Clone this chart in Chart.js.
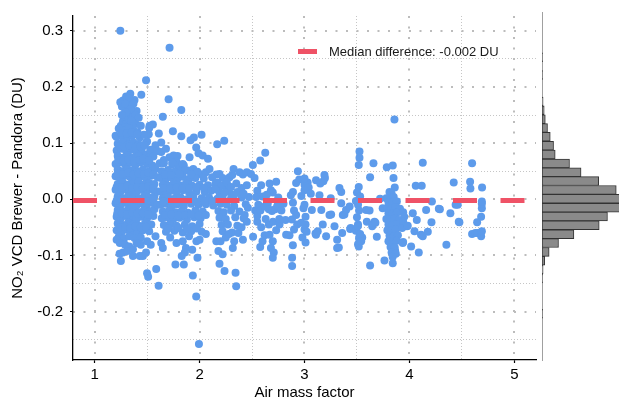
<!DOCTYPE html>
<html lang="en">
<head>
  <meta charset="UTF-8">
  <title>Brewer - Pandora NO2 difference vs air mass factor</title>
  <script src="https://cdn.jsdelivr.net/npm/chart.js"></script>
  <style>
    body {
      margin: 0;
      background-color: #ffffff;
      font-family: "Liberation Sans", Arial, sans-serif;
      overflow: hidden;
    }
    #wrap {
      position: relative;
      width: 619px;
      height: 402px;
    }
    #main, #hist {
      position: absolute;
      top: 0;
    }
    #main { left: 0; }
    #hist { left: 540px; }
    #legend {
      position: absolute;
      left: 298px;
      top: 43px;
      height: 16px;
      display: flex;
      align-items: center;
      font-size: 13px;
      color: #1a1a1a;
      white-space: nowrap;
    }
    #legend .key {
      display: inline-block;
      width: 19px;
      height: 5px;
      margin-right: 12px;
    }
  </style>
</head>
<body>
  <div id="wrap">
    <canvas id="main" width="540" height="402"></canvas>
    <canvas id="hist" width="79" height="402"></canvas>
    <div id="legend"><span class="key"></span><span id="legendText"></span></div>
  </div>

  <script>
    // [air mass factor, Brewer - Pandora (DU)]
    const lowAmfPoints = [
      [1.245,0.300],[1.49,0.212],[1.445,0.186],[1.34,0.188],[1.30,0.183],[1.245,0.173],[1.38,0.177],
      [1.35,0.166],[1.36,0.154],[1.40,0.157],[1.32,0.151],[1.29,0.160],[1.26,0.165],[1.31,0.171],
      [1.27,0.139],[1.30,0.136],[1.33,0.142],[1.365,0.145],[1.28,0.148],[1.25,0.131],[1.39,0.134],
      [1.555,0.133],[1.524,0.131],[1.20,0.113],[1.41,0.119],[1.52,0.127],[1.516,0.116],[1.49,0.101],
      [1.46,0.095],[1.555,0.087],[1.52,0.081],[1.46,0.081],[1.44,0.131],
      [1.27,0.176],[1.33,0.180],[1.29,0.170],[1.37,0.170],[1.34,0.160],[1.39,0.150],[1.30,0.155],
      [1.42,0.145],[1.26,0.150],[1.35,0.140],[1.29,0.128],[1.36,0.130],
      [1.23,0.126],[1.28,0.122],[1.33,0.127],[1.38,0.121],
      [1.21,0.111],[1.26,0.114],[1.31,0.109],[1.36,0.113],[1.43,0.110],[1.47,0.115],
      [1.22,0.099],[1.27,0.102],[1.32,0.097],[1.37,0.101],[1.42,0.098],[1.50,0.103],[1.58,0.096],
      [1.21,0.087],[1.25,0.090],[1.30,0.086],[1.35,0.089],[1.40,0.085],[1.45,0.091],[1.53,0.088],[1.60,0.086],
      [1.22,0.077],[1.27,0.074],[1.32,0.078],[1.37,0.075],[1.42,0.077],[1.48,0.073],[1.56,0.076],
      [1.20,0.063],[1.24,0.066],[1.29,0.062],[1.34,0.065],[1.39,0.061],[1.44,0.066],[1.50,0.063],[1.55,0.060],
      [1.22,0.053],[1.26,0.050],[1.31,0.054],[1.36,0.051],[1.41,0.049],[1.46,0.053],[1.52,0.050],[1.58,0.054],
      [1.20,0.041],[1.24,0.038],[1.29,0.042],[1.34,0.039],[1.39,0.037],[1.44,0.041],[1.49,0.038],[1.54,0.042],
      [1.22,0.027],[1.27,0.030],[1.32,0.026],[1.37,0.029],[1.42,0.031],[1.47,0.026],[1.52,0.029],[1.57,0.027],
      [1.20,0.017],[1.25,0.014],[1.30,0.018],[1.35,0.015],[1.40,0.013],[1.45,0.017],[1.50,0.015],[1.55,0.018],
      [1.22,0.005],[1.27,0.002],[1.32,0.006],[1.37,0.003],[1.42,0.001],[1.47,0.005],[1.52,0.003],[1.57,0.006],
      [1.20,-0.007],[1.25,-0.010],[1.30,-0.006],[1.35,-0.009],[1.40,-0.011],[1.45,-0.007],[1.50,-0.009],[1.55,-0.006],
      [1.22,-0.019],[1.27,-0.022],[1.32,-0.018],[1.37,-0.021],[1.42,-0.023],[1.47,-0.019],[1.52,-0.021],[1.57,-0.018],
      [1.21,-0.031],[1.25,-0.034],[1.30,-0.030],[1.35,-0.033],[1.40,-0.035],[1.45,-0.031],[1.50,-0.034],[1.56,-0.030],
      [1.22,-0.043],[1.27,-0.046],[1.32,-0.042],[1.37,-0.045],[1.42,-0.047],[1.48,-0.043],[1.54,-0.045],
      [1.21,-0.055],[1.26,-0.058],[1.31,-0.054],[1.36,-0.057],[1.41,-0.059],[1.46,-0.055],[1.52,-0.057],
      [1.23,-0.067],[1.28,-0.070],[1.33,-0.066],[1.38,-0.069],[1.44,-0.068],
      [1.255,0.118],[1.305,0.117],[1.355,0.119],[1.405,0.116],
      [1.235,0.094],[1.285,0.093],[1.335,0.095],[1.385,0.092],[1.435,0.094],[1.475,0.096],
      [1.225,0.070],[1.275,0.069],[1.325,0.071],[1.375,0.068],[1.425,0.070],[1.465,0.072],[1.52,0.069],
      [1.22,0.046],[1.27,0.045],[1.32,0.047],[1.37,0.044],[1.42,0.046],[1.47,0.045],[1.51,0.047],[1.56,0.044],
      [1.21,0.022],[1.26,0.021],[1.31,0.023],[1.36,0.020],[1.41,0.022],[1.46,0.021],[1.51,0.023],[1.56,0.020],
      [1.21,-0.002],[1.26,-0.001],[1.31,-0.003],[1.36,0.000],[1.41,-0.002],[1.46,-0.001],[1.51,-0.003],[1.56,0.000],
      [1.215,-0.026],[1.26,-0.025],[1.31,-0.027],[1.36,-0.024],[1.41,-0.026],[1.46,-0.025],[1.51,-0.027],
      [1.24,-0.050],[1.29,-0.049],[1.34,-0.051],[1.39,-0.048],[1.44,-0.050],[1.49,-0.049],
      [1.21,-0.072],[1.24,-0.078],[1.29,-0.081],[1.33,-0.084],[1.365,-0.089],[1.43,-0.101],[1.46,-0.101],
      [1.49,-0.095],[1.535,-0.081],[1.44,-0.081],[1.238,-0.097],[1.27,-0.095],[1.25,-0.110],[1.365,-0.101],
      [1.50,-0.132],[1.51,-0.138],[1.587,-0.124],[1.58,-0.066],[1.50,-0.075],[1.40,-0.078],[1.31,-0.092]
    ];

    const midAmfPoints = [
      [1.714,0.270],[1.705,0.178],[1.826,0.159],[1.65,0.147],[1.746,0.121],[1.612,0.117],[1.826,0.112],
      [2.019,0.115],[1.946,0.110],[1.914,0.105],[2.168,0.098],[2.235,0.104],[1.968,0.092],[1.635,0.101],
      [1.635,0.084],[1.714,0.075],[1.752,0.078],[1.79,0.077],[1.905,0.075],[1.99,0.082],[2.03,0.078],
      [2.08,0.072],[1.85,0.060],[1.80,0.057],[1.89,0.051],[1.94,0.054],[2.00,0.045],[2.06,0.048],
      [2.095,0.054],[2.16,0.044],[2.19,0.045],[2.22,0.038],[2.286,0.039],[2.311,0.043],[2.324,0.054],
      [2.381,0.048],[2.413,0.044],[2.45,0.048],[2.49,0.045],[1.68,0.090],[1.66,0.070],[1.74,0.062],[1.78,0.067],
      [1.62,0.064],[1.60,0.039],[1.60,0.014],[1.60,-0.010],
      [1.66,0.064],[1.74,0.066],[1.84,0.063],
      [1.64,0.050],[1.70,0.052],[1.76,0.049],[1.86,0.051],[1.98,0.049],
      [1.63,0.038],[1.68,0.036],[1.73,0.039],[1.79,0.037],[1.84,0.040],[1.90,0.036],[1.96,0.038],[2.04,0.037],[2.12,0.039],
      [1.65,0.026],[1.70,0.024],[1.75,0.027],[1.81,0.025],[1.87,0.028],[1.93,0.024],[2.00,0.026],[2.08,0.025],[2.15,0.027],[2.24,0.024],
      [1.63,0.014],[1.68,0.012],[1.73,0.015],[1.78,0.013],[1.84,0.016],[1.90,0.012],[1.97,0.014],[2.05,0.013],[2.11,0.015],[2.19,0.012],[2.28,0.014],[2.36,0.013],
      [1.65,0.002],[1.70,0.004],[1.76,0.001],[1.82,0.003],[1.88,0.000],[1.94,0.004],[2.02,0.002],[2.09,0.003],[2.17,0.001],[2.22,0.004],[2.30,0.002],[2.40,0.003],
      [1.63,-0.010],[1.68,-0.008],[1.74,-0.011],[1.79,-0.009],[1.85,-0.012],[1.92,-0.008],[1.99,-0.010],[2.06,-0.009],[2.13,-0.011],[2.20,-0.008],[2.26,-0.010],[2.33,-0.012],[2.44,-0.009],
      [1.65,-0.022],[1.71,-0.020],[1.77,-0.023],[1.83,-0.021],[1.89,-0.024],[1.96,-0.020],[2.03,-0.022],[2.18,-0.021],[2.23,-0.023],[2.30,-0.020],[2.38,-0.022],
      [1.64,-0.034],[1.69,-0.032],[1.75,-0.035],[1.81,-0.033],[1.88,-0.036],[1.95,-0.032],[2.01,-0.034],[2.19,-0.033],[2.25,-0.035],[2.34,-0.032],[2.42,-0.034],
      [1.66,-0.046],[1.72,-0.044],[1.78,-0.047],[1.86,-0.045],[1.93,-0.048],[2.00,-0.044],[2.21,-0.046],[2.27,-0.045],[2.36,-0.047],
      [1.68,-0.058],[1.76,-0.056],[1.84,-0.059],[1.92,-0.057],[2.02,-0.058],[2.22,-0.057],[2.31,-0.059],
      [1.67,0.044],[1.73,0.043],[1.81,0.045],[1.92,0.044],
      [1.66,0.020],[1.72,0.019],[1.78,0.021],[1.84,0.020],[1.90,0.019],[1.97,0.021],[2.04,0.020],
      [1.66,-0.004],[1.72,-0.003],[1.79,-0.005],[1.85,-0.004],[1.91,-0.003],[1.98,-0.005],[2.05,-0.004],[2.12,-0.003],
      [1.67,-0.028],[1.73,-0.027],[1.80,-0.029],[1.86,-0.028],[1.92,-0.027],[1.99,-0.029],[2.06,-0.028],
      [1.70,-0.052],[1.80,-0.051],[1.88,-0.053],[1.97,-0.052],
      [2.17,0.030],[2.21,0.024],[2.26,0.030],[2.30,0.022],[2.35,0.028],[2.40,0.020],[2.45,0.025],
      [2.24,0.012],[2.33,0.008],[2.42,0.010],[2.47,0.004],[2.15,0.018],
      [1.61,-0.154],[1.635,-0.078],[1.65,-0.087],[1.77,-0.116],[1.85,-0.116],[1.78,-0.078],[1.84,-0.075],
      [1.87,-0.087],[1.86,-0.095],[1.83,-0.101],[1.936,-0.136],[1.968,-0.173],[1.994,-0.258],[1.98,-0.104],
      [1.93,-0.090],[1.97,-0.075],[2.00,-0.072],[2.16,-0.075],[2.18,-0.092],[2.20,-0.075],[2.22,-0.098],
      [2.19,-0.115],[2.238,-0.128],[2.343,-0.131],[2.349,-0.155],[2.317,-0.087],[2.33,-0.075],[2.413,-0.072],
      [2.25,-0.068],[2.28,-0.062],[2.37,-0.060],[2.40,-0.050],[2.45,-0.040],[2.43,-0.028],[2.46,-0.015],
      [1.72,-0.068],[1.90,-0.066],[2.06,-0.062]
    ];

    const highAmfPoints = [
      [2.626,0.083],[2.578,0.069],[2.508,0.061],[2.524,0.038],[2.587,0.025],[2.667,0.028],[2.73,0.031],
      [2.68,0.016],[2.698,0.012],[2.937,0.050],[2.95,0.035],[2.92,0.029],[3.00,0.026],[3.03,0.030],
      [3.00,0.037],[3.04,0.021],[3.00,0.016],[3.11,0.034],[3.19,0.043],[3.18,0.032],[3.15,0.028],
      [3.195,0.038],[3.143,0.007],[2.87,0.007],[2.89,0.013],[2.55,0.015],[2.60,0.005],[2.64,0.008],
      [2.75,0.003],[3.25,0.002],[3.333,0.020],[3.35,0.013],[2.54,0.004],[2.97,0.006],[3.06,0.010],
      [2.51,-0.067],[2.55,-0.040],[2.53,-0.020],[2.56,-0.010],[2.55,-0.030],[2.58,-0.020],[2.587,-0.050],
      [2.578,-0.085],[2.60,-0.075],[2.62,-0.064],[2.63,-0.035],[2.62,-0.013],[2.65,-0.008],[2.66,-0.045],
      [2.66,-0.018],[2.667,-0.063],[2.69,-0.021],[2.70,-0.040],[2.698,-0.075],[2.68,-0.087],[2.707,-0.095],
      [2.698,-0.104],[2.72,-0.018],[2.73,-0.055],[2.74,-0.012],[2.762,-0.045],[2.76,-0.035],[2.78,-0.020],
      [2.80,-0.008],[2.819,-0.037],[2.825,-0.063],[2.857,-0.064],[2.89,-0.006],[2.90,-0.020],[2.88,-0.036],
      [2.92,-0.028],[2.93,-0.045],[2.90,-0.054],[2.889,-0.082],[2.882,-0.104],[2.882,-0.119],[2.97,-0.042],
      [3.00,-0.054],[3.01,-0.045],[3.02,-0.058],[2.98,-0.068],[3.01,-0.077],[3.01,-0.031],[2.99,-0.016],
      [3.00,-0.010],[3.07,-0.019],[3.105,-0.061],[3.11,-0.063],[3.126,-0.057],[3.16,-0.019],[3.174,-0.045],
      [3.206,-0.066],[3.238,-0.028],[3.254,-0.027],[3.286,-0.048],[3.311,-0.072],[3.327,-0.086],[3.311,-0.087],
      [3.35,-0.007],[3.359,-0.060],[3.365,-0.028],[3.38,-0.027],[3.396,-0.019],[3.43,-0.013],[3.435,-0.053],[3.44,-0.051]
    ];

    const veryHighAmfPoints = [
      [3.857,0.142],[3.524,0.085],[3.524,0.074],[3.517,0.061],[3.657,0.064],[3.784,0.057],[3.841,0.060],
      [4.127,0.065],[4.597,0.064],[3.625,0.039],[3.848,0.038],[4.06,0.024],[4.117,0.024],[4.422,0.030],
      [4.578,0.031],[4.692,0.021],[4.581,0.019],[3.517,0.022],[3.86,0.021],[3.81,0.013],[3.83,0.010],
      [3.78,0.002],[3.85,0.004],[3.50,0.012],[3.53,0.005],[3.72,0.001],
      [3.49,-0.003],[3.51,-0.010],[3.52,-0.020],[3.50,-0.032],[3.51,-0.045],[3.49,-0.056],[3.53,-0.062],
      [3.52,-0.070],[3.51,-0.080],[3.55,-0.068],[3.508,-0.048],[3.524,-0.066],[3.517,-0.084],[3.54,-0.075],
      [3.587,-0.019],[3.62,-0.020],[3.625,-0.118],[3.594,-0.040],[3.645,-0.048],[3.65,-0.045],[3.667,-0.040],
      [3.676,-0.042],[3.689,-0.067],[3.745,-0.016],[3.762,-0.109],[3.841,-0.114],[3.864,-0.092],
      [3.80,-0.005],[3.84,-0.006],[3.88,-0.004],[3.79,-0.015],[3.83,-0.016],[3.87,-0.014],[3.91,-0.017],
      [3.80,-0.025],[3.84,-0.026],[3.88,-0.024],[3.78,-0.035],[3.82,-0.036],[3.86,-0.034],[3.90,-0.037],
      [3.80,-0.045],[3.84,-0.046],[3.88,-0.044],[3.79,-0.055],[3.83,-0.056],[3.87,-0.054],[3.81,-0.065],
      [3.85,-0.066],[3.89,-0.064],[3.80,-0.075],[3.84,-0.076],[3.88,-0.074],[3.82,-0.085],[3.86,-0.086],
      [3.83,-0.095],[3.87,-0.097],[3.84,-0.103],
      [3.94,-0.023],[3.95,-0.031],[3.94,-0.040],[3.93,-0.051],[3.94,-0.076],[3.977,-0.048],[3.936,-0.078],
      [3.984,-0.047],[4.016,-0.084],[4.032,-0.025],[4.048,-0.057],[4.07,-0.037],[4.089,-0.095],[4.11,-0.063],
      [4.127,-0.066],[4.159,-0.019],[4.175,-0.058],[4.21,-0.041],[4.214,-0.004],[4.28,-0.017],[4.29,-0.018],
      [4.352,-0.081],[4.39,-0.025],[4.44,-0.010],[4.46,-0.010],[4.47,-0.040],[4.476,-0.041],[4.597,-0.062],
      [4.629,-0.060],[4.65,-0.060],[4.645,-0.041],[4.683,-0.066],[4.69,-0.057],[4.683,-0.031],[4.69,-0.016],
      [4.69,-0.008],[4.69,-0.004]
    ];

    const medianDiff = -0.002;

    // marginal histogram, bin centres (DU) and counts
    const histBinCenters = [0.2922, 0.2548, 0.1987, 0.1800, 0.1613, 0.1426, 0.1239, 0.1052, 0.0865, 0.0678,
      0.0491, 0.0304, 0.0117, -0.0070, -0.0257, -0.0444, -0.0631, -0.0818, -0.1005, -0.1192,
      -0.1379, -0.1566, -0.1753, -0.2501];
    const histCounts = [1, 1, 2, 4, 6, 10, 15, 21, 24, 50,
      71, 103, 135, 150, 148, 119, 104, 58, 30, 13,
      5, 2, 1, 1];

    const xTicks = [1, 2, 3, 4, 5];
    const xMinorTicks = [1.5, 2.5, 3.5, 4.5];
    const yTicks = [-0.2, -0.1, 0.0, 0.1, 0.2, 0.3];
    const yMinorTicks = [-0.25, -0.15, -0.05, 0.05, 0.15, 0.25];

    const X_MIN = 0.794, X_MAX = 5.206;
    const Y_MIN = -0.2863, Y_MAX = 0.3264;

    const BLUE = '#5D9BEB';
    const RED = '#EF5266';
    const FONT = "'Liberation Sans', Arial, sans-serif";

    const setTicks = list => scale => { scale.ticks = list.map(v => ({ value: v })); };

    function gridAxis(position, min, max, list, style) {
      return {
        type: 'linear',
        position: position,
        min: min,
        max: max,
        afterBuildTicks: setTicks(list),
        afterFit: s => { if (s.isHorizontal()) s.height = 0; else s.width = 0; },
        ticks: { display: false },
        grid: { color: style.color, lineWidth: style.width, drawTicks: false },
        border: { display: false, dash: style.dash }
      };
    }

    const majorGrid = { color: '#bcbcbc', width: 2, dash: [2, 8.5] };
    const minorGrid = { color: '#c6c6c6', width: 1, dash: [1, 2] };

    const allPoints = [...lowAmfPoints, ...midAmfPoints, ...highAmfPoints, ...veryHighAmfPoints]
      .map(([x, y]) => ({ x: x, y: y }));

    document.querySelector('#legend .key').style.background = RED;
    document.getElementById('legendText').textContent =
      'Median difference: ' + medianDiff.toFixed(3) + ' DU';

    new Chart(document.getElementById('main'), {
      type: 'scatter',
      data: {
        datasets: [
          {
            type: 'line',
            label: 'Median difference',
            data: [{ x: X_MIN, y: medianDiff }, { x: X_MAX, y: medianDiff }],
            borderColor: RED,
            borderWidth: 5,
            borderDash: [24, 23.5],
            pointRadius: 0,
            fill: false,
            xAxisID: 'x',
            yAxisID: 'y',
            order: 0
          },
          {
            label: 'Brewer - Pandora',
            data: allPoints,
            backgroundColor: BLUE,
            borderColor: BLUE,
            borderWidth: 0,
            pointRadius: 4,
            xAxisID: 'x',
            yAxisID: 'y',
            order: 1
          }
        ]
      },
      options: {
        responsive: false,
        animation: false,
        events: [],
        layout: { padding: { top: 12, right: 3, bottom: 0, left: 0 } },
        plugins: {
          legend: { display: false },
          tooltip: { enabled: false }
        },
        scales: {
          x: {
            type: 'linear',
            position: 'bottom',
            min: X_MIN,
            max: X_MAX,
            afterBuildTicks: setTicks(xTicks),
            afterFit: s => { s.height = 42; },
            ticks: {
              color: '#000',
              font: { family: FONT, size: 15 },
              padding: 3,
              callback: v => String(v)
            },
            grid: { drawOnChartArea: false, tickLength: 3, tickColor: '#000', tickWidth: 1.2 },
            border: { color: '#000', width: 1.3 },
            title: {
              display: true,
              text: 'Air mass factor',
              color: '#000',
              font: { family: FONT, size: 15 },
              padding: { top: 0, bottom: 0 }
            }
          },
          y: {
            type: 'linear',
            position: 'left',
            min: Y_MIN,
            max: Y_MAX,
            afterBuildTicks: setTicks(yTicks),
            afterFit: s => { s.width = 73; },
            ticks: {
              color: '#000',
              font: { family: FONT, size: 15 },
              padding: 7,
              callback: v => v.toFixed(1)
            },
            grid: { drawOnChartArea: false, tickLength: 3, tickColor: '#000', tickWidth: 1.2 },
            border: { color: '#000', width: 1.3 },
            title: {
              display: true,
              text: 'NO₂ VCD Brewer - Pandora (DU)',
              color: '#000',
              font: { family: FONT, size: 15 },
              padding: { top: 9, bottom: 0 }
            }
          },
          xMinor: gridAxis('bottom', X_MIN, X_MAX, xMinorTicks, minorGrid),
          yMinor: gridAxis('left', Y_MIN, Y_MAX, yMinorTicks, minorGrid),
          xMajor: gridAxis('bottom', X_MIN, X_MAX, xTicks, majorGrid),
          yMajor: gridAxis('left', Y_MIN, Y_MAX, yTicks, majorGrid)
        }
      }
    });

    new Chart(document.getElementById('hist'), {
      type: 'bar',
      data: {
        datasets: [{
          data: histBinCenters.map((c, i) => ({ x: histCounts[i], y: c })),
          backgroundColor: '#8a8a8a',
          borderColor: '#333333',
          borderWidth: 1,
          borderSkipped: false,
          barPercentage: 1,
          categoryPercentage: 1
        }]
      },
      options: {
        indexAxis: 'y',
        responsive: false,
        animation: false,
        events: [],
        layout: { padding: { top: 12, right: 0, bottom: 42, left: 2 } },
        plugins: {
          legend: { display: false },
          tooltip: { enabled: false }
        },
        scales: {
          x: { type: 'linear', min: 0, max: 140, display: false },
          y: {
            type: 'linear',
            position: 'left',
            min: Y_MIN,
            max: Y_MAX,
            afterBuildTicks: setTicks(yTicks),
            afterFit: s => { s.width = 0; },
            ticks: { display: false },
            grid: { display: false },
            border: { display: true, color: '#a0a0a0', width: 1 }
          }
        }
      }
    });
  </script>
</body>
</html>
